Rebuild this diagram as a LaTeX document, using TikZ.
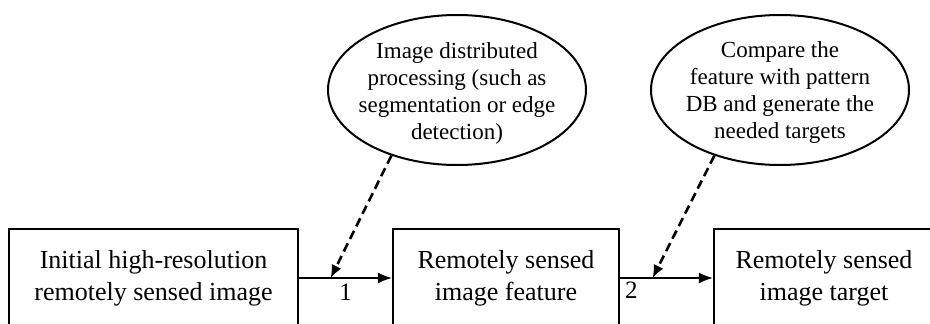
\documentclass[tikz,border=0pt]{standalone}
\usepackage{fontspec}
\setmainfont{Liberation Serif}
\usetikzlibrary{shapes.geometric, arrows.meta, positioning}

\tikzset{
	box/.style={draw, line width=2.2pt, minimum height=98pt, align=center, font=\fontsize{26}{32}\selectfont},
	bubble/.style={draw, ellipse, line width=2pt, minimum width=258pt, minimum height=150pt},
	bubbletext/.style={align=center, font=\fontsize{23}{27}\selectfont},
	flow/.style={line width=1.6pt, -{Latex[length=14pt,width=11pt]}},
	hint/.style={line width=2.6pt, dash pattern=on 9pt off 5pt, -{Latex[length=13pt,width=11pt]}}
}

\begin{document}
\begin{tikzpicture}[x=1pt, y=-1pt]
		\useasboundingbox (0,0) rectangle (930,324);
		\clip (0,0) rectangle (930,324);
		
		% boxes
		\node[box, minimum width=289pt] (init) at (153.5,278) {Initial high-resolution\\remotely sensed image};
		\node[box, minimum width=226pt] (feat) at (506,278) {Remotely sensed\\image feature};
		\node[box, minimum width=220pt] (targ) at (824,278) {Remotely sensed\\image target};
		
		% arrows 1 and 2
		\draw[flow] (init.east) -- (feat.west) coordinate[pos=0.34] (h1) node[midway, below=2pt]{\fontsize{25}{26}\selectfont 1};
		\draw[flow] (feat.east) -- (targ.west) coordinate[pos=0.35] (h2) node[at start, below right=0pt and 1pt]{\fontsize{25}{26}\selectfont 2};
		
		% ellipses
		\node[bubble] (seg) at (457,90) {};
		\node[bubbletext] at ([yshift=-3pt]seg.center) {Image distributed\\processing (such as\\segmentation or edge\\detection)};
		\node[bubble] (cmp) at (780,90) {};
		\node[bubbletext] at ([yshift=-3pt]cmp.center) {Compare the\\feature with pattern\\DB and generate the\\needed targets};
		
		% dashed hints
		\draw[hint] (seg.225) -- (h1);
		\draw[hint] (cmp.225) -- (h2);
\end{tikzpicture}
\end{document}
